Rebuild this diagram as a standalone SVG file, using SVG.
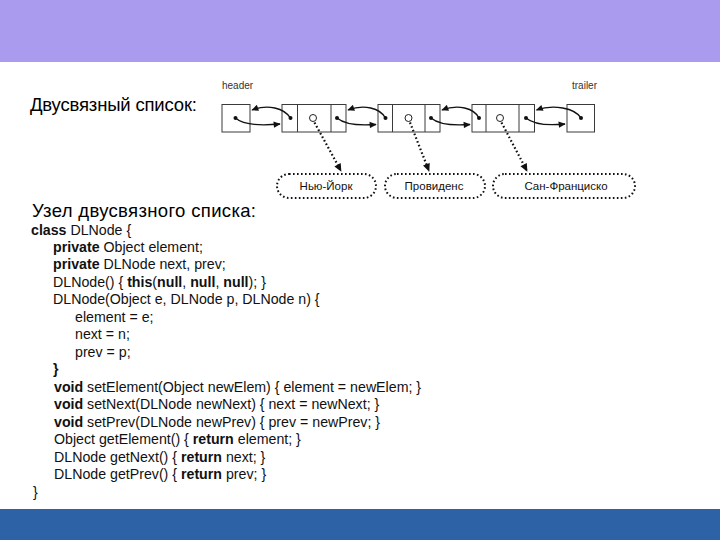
<svg xmlns="http://www.w3.org/2000/svg" width="720" height="540" viewBox="0 0 720 540">
<defs>
<style>
.box{fill:#fff;stroke:#3a3a3a;stroke-width:1}
.dot{fill:#111}
.circ{fill:#fff;stroke:#222;stroke-width:1}
.link{fill:none;stroke:#111;stroke-width:1.3}
.ref{fill:none;stroke:#111;stroke-width:2.2;stroke-dasharray:1.6 2.4}
.pill{fill:#fff;stroke:#111;stroke-width:2;stroke-dasharray:1.6 2.4}
.lbl{font-family:"Liberation Sans",Arial,sans-serif;font-size:10px;fill:#333}
.ptxt{font-family:"Liberation Sans",Arial,sans-serif;font-size:11.5px;fill:#111;text-anchor:middle}
.head{font-family:"Liberation Sans",Arial,sans-serif;font-size:18.5px;fill:#000}
.code{font-family:"Liberation Sans",Arial,sans-serif;font-size:14.2px;fill:#111}
.b{font-weight:bold}
</style>
<marker id="ah" viewBox="0 0 10 10" refX="9" refY="5" markerWidth="8" markerHeight="7" markerUnits="userSpaceOnUse" orient="auto">
<path d="M0,0.5 L10,5 L0,9.5 z" fill="#111"/>
</marker>
<marker id="ahd" viewBox="0 0 10 10" refX="9" refY="5" markerWidth="9" markerHeight="8" markerUnits="userSpaceOnUse" orient="auto">
<path d="M0,0.5 L10,5 L0,9.5 z" fill="#111"/>
</marker>
</defs>
<rect x="0" y="0" width="720" height="540" fill="#fff"/>
<rect id="topband" x="0" y="0" width="720" height="62" fill="#AA9BEE"/>
<rect id="bottomband" x="0" y="509" width="720" height="31" fill="#2D62A6"/>

<text class="head" x="30" y="111" textLength="167" lengthAdjust="spacing">Двусвязный список:</text>
<text class="lbl" x="222" y="89">header</text>
<text class="lbl" x="572" y="89">trailer</text>

<g id="header">
<rect class="box" x="222" y="104.5" width="28" height="27.5"/>
<circle class="dot" cx="235.5" cy="118" r="2"/>
</g>
<g id="node1">
<rect class="box" x="282" y="104.5" width="64" height="27.5"/>
<line class="box" x1="297.5" y1="104.5" x2="297.5" y2="132"/>
<line class="box" x1="331" y1="104.5" x2="331" y2="132"/>
<circle class="dot" cx="290.5" cy="118" r="2"/>
<circle class="circ" cx="313" cy="118" r="3.5"/>
<circle class="dot" cx="337" cy="118" r="2"/>
</g>
<g id="node2">
<rect class="box" x="378" y="104.5" width="62" height="27.5"/>
<line class="box" x1="392.5" y1="104.5" x2="392.5" y2="132"/>
<line class="box" x1="425" y1="104.5" x2="425" y2="132"/>
<circle class="dot" cx="385.5" cy="118" r="2"/>
<circle class="circ" cx="408.5" cy="118" r="3.5"/>
<circle class="dot" cx="431" cy="118" r="2"/>
</g>
<g id="node3">
<rect class="box" x="472" y="104.5" width="62.5" height="27.5"/>
<line class="box" x1="486" y1="104.5" x2="486" y2="132"/>
<line class="box" x1="519" y1="104.5" x2="519" y2="132"/>
<circle class="dot" cx="479" cy="118" r="2"/>
<circle class="circ" cx="500" cy="118" r="3.5"/>
<circle class="dot" cx="526" cy="118" r="2"/>
</g>
<g id="trailer">
<rect class="box" x="567" y="104.5" width="27.5" height="27.5"/>
<circle class="dot" cx="581" cy="118" r="2"/>
</g>

<g id="ny">
<rect class="pill" x="277" y="174" width="99" height="24" rx="12"/>
<text class="ptxt" x="326" y="190">Нью-Йорк</text>
</g>
<g id="prov">
<rect class="pill" x="385" y="174" width="100" height="24" rx="12"/>
<text class="ptxt" x="434" y="190">Провиденс</text>
</g>
<g id="sf">
<rect class="pill" x="493" y="174" width="142" height="24" rx="12"/>
<text class="ptxt" x="566" y="190">Сан-Франциско</text>
</g>

<g id="connectors">
<path class="link" d="M235.5,118 C242,124 258,126 280,124" marker-end="url(#ah)"/>
<path class="link" d="M290.5,118 C284,108 268,104 252,110" marker-end="url(#ah)"/>
<path class="link" d="M337,118 C344,124 356,126 376,124.5" marker-end="url(#ah)"/>
<path class="link" d="M385.5,118 C380,108 364,104 348,110" marker-end="url(#ah)"/>
<path class="link" d="M431,118 C438,124 450,126 470,124.5" marker-end="url(#ah)"/>
<path class="link" d="M479,118 C474,108 458,104 442,110" marker-end="url(#ah)"/>
<path class="link" d="M526,118 C533,124 545,126 565,124" marker-end="url(#ah)"/>
<path class="link" d="M581,118 C575,108 553,104 536.5,110" marker-end="url(#ah)"/>
<path class="ref" d="M314.5,122.5 L341,171" marker-end="url(#ahd)"/>
<path class="ref" d="M410,122.5 L429,171" marker-end="url(#ahd)"/>
<path class="ref" d="M501.5,122.5 L527,171" marker-end="url(#ahd)"/>
</g>

<text class="head" x="32" y="217" textLength="224" lengthAdjust="spacing">Узел двусвязного списка:</text>
<g id="code">
<text class="code" x="31" y="234.5"><tspan class="b">class</tspan> DLNode {</text>
<text class="code" x="53" y="251.5"><tspan class="b">private</tspan> Object element;</text>
<text class="code" x="53" y="269"><tspan class="b">private</tspan> DLNode next, prev;</text>
<text class="code" x="53" y="286.5">DLNode() { <tspan class="b">this</tspan>(<tspan class="b">null</tspan>, <tspan class="b">null</tspan>, <tspan class="b">null</tspan>); }</text>
<text class="code" x="53" y="304">DLNode(Object e, DLNode p, DLNode n) {</text>
<text class="code" x="75" y="321.5">element = e;</text>
<text class="code" x="75" y="339">next = n;</text>
<text class="code" x="75" y="356.5">prev = p;</text>
<text class="code b" x="53" y="374">}</text>
<text class="code" x="54" y="391.5"><tspan class="b">void</tspan> setElement(Object newElem) { element = newElem; }</text>
<text class="code" x="54" y="409"><tspan class="b">void</tspan> setNext(DLNode newNext) { next = newNext; }</text>
<text class="code" x="54" y="426.5"><tspan class="b">void</tspan> setPrev(DLNode newPrev) { prev = newPrev; }</text>
<text class="code" x="54" y="444">Object getElement() { <tspan class="b">return</tspan> element; }</text>
<text class="code" x="54" y="461.5">DLNode getNext() { <tspan class="b">return</tspan> next; }</text>
<text class="code" x="54" y="479">DLNode getPrev() { <tspan class="b">return</tspan> prev; }</text>
<text class="code" x="33" y="496.5">}</text>
</g>
</svg>
